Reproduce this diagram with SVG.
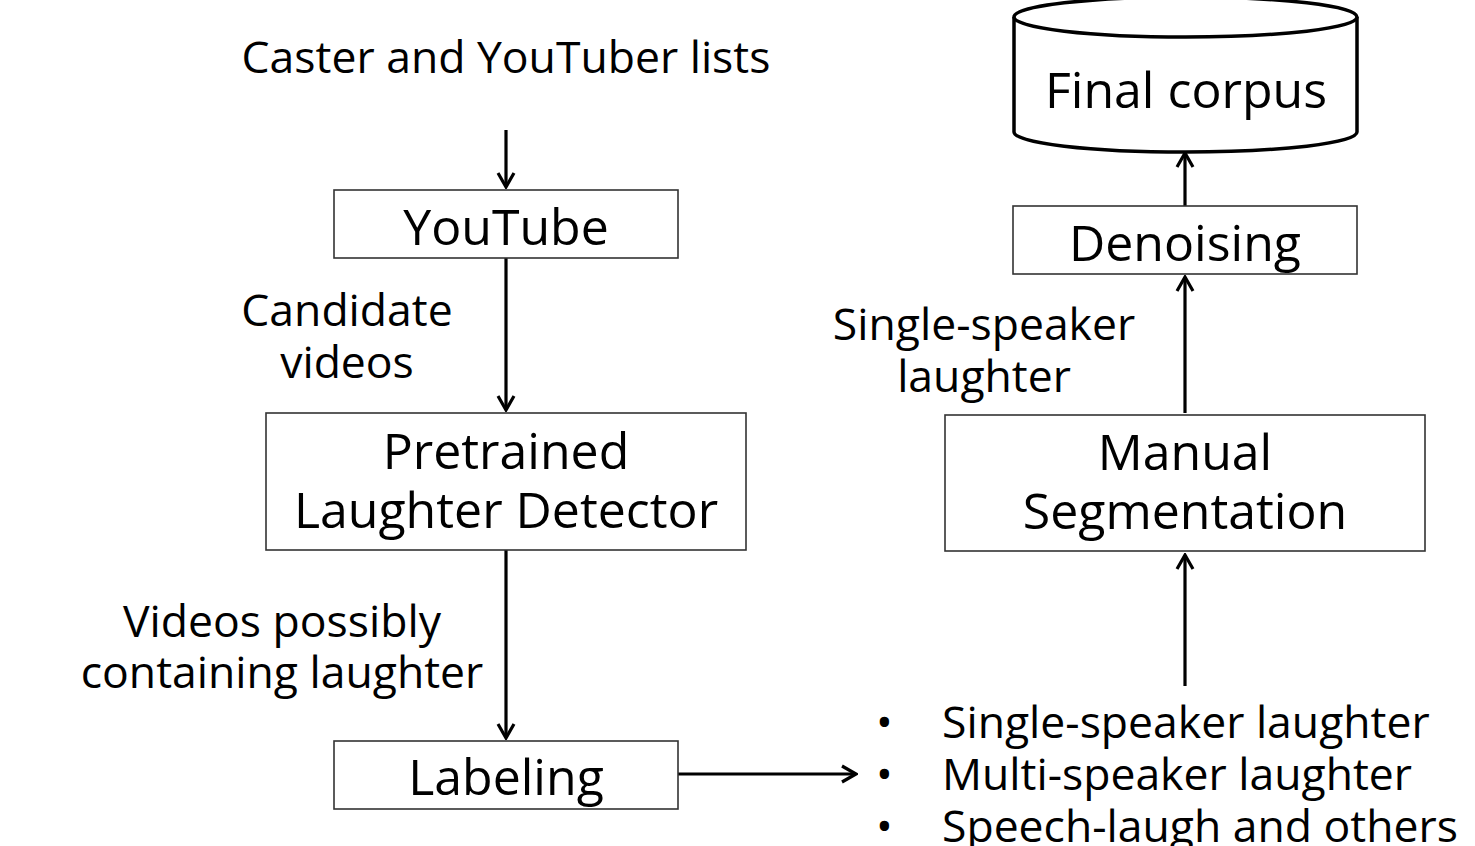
<svg xmlns="http://www.w3.org/2000/svg" width="1475" height="846" viewBox="0 0 1475 846">
<style>
text{font-family:"Open Sans","Noto Sans",sans-serif;fill:#000;}
.lbl{font-size:44.5px;}
.nd{font-size:50px;text-anchor:middle;}
.box{fill:#fff;stroke:#333;stroke-width:1.6;}
.cn{stroke:#000;stroke-width:3.2;fill:none;}
</style>
<defs>
<marker id="ah" viewBox="0 0 20 20" refX="18" refY="10" markerWidth="20" markerHeight="20" markerUnits="userSpaceOnUse" orient="auto">
<polyline points="4,2 18,10 4,18" fill="none" stroke="#000" stroke-width="3.2"/>
</marker>
</defs>
<rect width="1475" height="846" fill="#fff"/>
<g id="connectors">
<line class="cn" x1="506" y1="130" x2="506" y2="187" marker-end="url(#ah)"/>
<line class="cn" x1="506" y1="258" x2="506" y2="410" marker-end="url(#ah)"/>
<line class="cn" x1="506" y1="550" x2="506" y2="738" marker-end="url(#ah)"/>
<line class="cn" x1="678" y1="774" x2="856" y2="774" marker-end="url(#ah)"/>
<line class="cn" x1="1185" y1="686" x2="1185" y2="555" marker-end="url(#ah)"/>
<line class="cn" x1="1185" y1="413" x2="1185" y2="277" marker-end="url(#ah)"/>
<line class="cn" x1="1185" y1="206" x2="1185" y2="153" marker-end="url(#ah)"/>
</g>
<g id="lists"><text class="lbl" x="506" y="73" text-anchor="middle">Caster and YouTuber lists</text></g>
<g id="youtube"><rect class="box" x="334" y="190" width="344" height="68"/><text class="nd" x="506" y="245">YouTube</text></g>
<g id="candidate"><text class="lbl" text-anchor="middle"><tspan x="347" y="326">Candidate</tspan><tspan x="347" y="378">videos</tspan></text></g>
<g id="detector"><rect class="box" x="266" y="413" width="480" height="137"/><text class="nd"><tspan x="506" y="469">Pretrained</tspan><tspan x="506" y="528">Laughter Detector</tspan></text></g>
<g id="possibly"><text class="lbl" text-anchor="middle"><tspan x="282" y="637">Videos possibly</tspan><tspan x="282" y="688">containing laughter</tspan></text></g>
<g id="labeling"><rect class="box" x="334" y="741" width="344" height="68"/><text class="nd" x="506" y="795">Labeling</text></g>
<g id="categories"><text class="lbl"><tspan x="876" y="738">•</tspan><tspan x="942" y="738">Single-speaker laughter</tspan><tspan x="876" y="790">•</tspan><tspan x="942" y="790">Multi-speaker laughter</tspan><tspan x="876" y="842">•</tspan><tspan x="942" y="842">Speech-laugh and others</tspan></text></g>
<g id="segmentation"><rect class="box" x="945" y="415" width="480" height="136"/><text class="nd"><tspan x="1185" y="470">Manual</tspan><tspan x="1185" y="529">Segmentation</tspan></text></g>
<g id="single"><text class="lbl" text-anchor="middle"><tspan x="984" y="340">Single-speaker</tspan><tspan x="984" y="392">laughter</tspan></text></g>
<g id="denoising"><rect class="box" x="1013" y="206" width="344" height="68"/><text class="nd" x="1185" y="261">Denoising</text></g>
<g id="corpus">
<path d="M1014,17 L1014,132 A171.5,20 0 0 0 1357,132 L1357,17" fill="#fff" stroke="#000" stroke-width="3.5"/>
<ellipse cx="1185.5" cy="17" rx="171.5" ry="20" fill="#fff" stroke="#000" stroke-width="3.5"/>
<text class="nd" x="1186" y="108" style="font-size:50px">Final corpus</text>
</g>
</svg>
